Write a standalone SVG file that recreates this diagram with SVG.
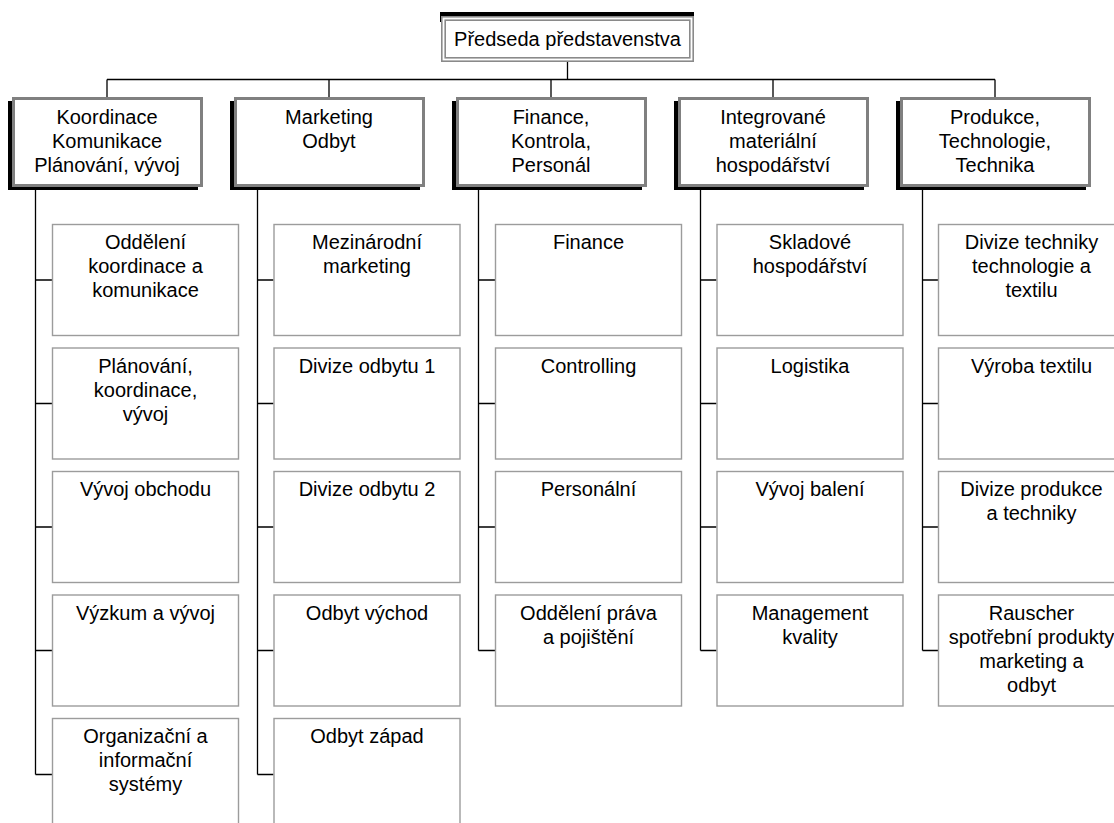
<svg xmlns="http://www.w3.org/2000/svg" width="1114" height="823" viewBox="0 0 1114 823">
<style>
text{font-family:"Liberation Sans",Arial,sans-serif;font-size:20px;fill:#000;text-anchor:middle}
.conn{stroke:#000;stroke-width:1.3;fill:none}
.shadow{fill:#000}
.head{fill:#fff;stroke:#808080;stroke-width:3}
.child{fill:#fff;stroke:#9c9c9c;stroke-width:1.4}
.topo{fill:#fff;stroke:#8a8a8a;stroke-width:1.6}
.topi{fill:none;stroke:#8a8a8a;stroke-width:1.6}
</style>
<rect width="1114" height="823" fill="#fff"/>
<g id="connectors">
<path class="conn" d="M567.5 62V79.5M107 79.5H995M107 79.5V97M329 79.5V97M551 79.5V97M773 79.5V97M995 79.5V97"/>
<path class="conn" d="M35.5 190V774.5M35.5 280H52M35.5 403.5H52M35.5 527H52M35.5 650.5H52M35.5 774.5H52"/>
<path class="conn" d="M257.5 190V774.5M257.5 280H273.5M257.5 403.5H273.5M257.5 527H273.5M257.5 650.5H273.5M257.5 774.5H273.5"/>
<path class="conn" d="M478.5 190V650.5M478.5 280H495M478.5 403.5H495M478.5 527H495M478.5 650.5H495"/>
<path class="conn" d="M700.5 190V650.5M700.5 280H716.5M700.5 403.5H716.5M700.5 527H716.5M700.5 650.5H716.5"/>
<path class="conn" d="M922.5 190V650.5M922.5 280H938M922.5 403.5H938M922.5 527H938M922.5 650.5H938"/>
</g>
<g id="top">
<rect class="shadow" x="440" y="12" width="254" height="10"/>
<rect class="topo" x="441.8" y="16.8" width="251.4" height="44.4"/>
<rect class="topi" x="445.2" y="20.2" width="244.6" height="37.6"/>
<text x="567.5" y="46">Předseda představenstva</text>
</g>
<g id="h1">
<rect class="shadow" x="8" y="101" width="190" height="89"/>
<rect class="head" x="13.5" y="98.5" width="188" height="87"/>
<text x="107" y="124">Koordinace</text><text x="107" y="148">Komunikace</text><text x="107" y="172">Plánování, vývoj</text>
</g>
<g id="h2">
<rect class="shadow" x="230" y="101" width="190" height="89"/>
<rect class="head" x="235.5" y="98.5" width="188" height="87"/>
<text x="329" y="124">Marketing</text><text x="329" y="148">Odbyt</text>
</g>
<g id="h3">
<rect class="shadow" x="452" y="101" width="190" height="89"/>
<rect class="head" x="457.5" y="98.5" width="188" height="87"/>
<text x="551" y="124">Finance,</text><text x="551" y="148">Kontrola,</text><text x="551" y="172">Personál</text>
</g>
<g id="h4">
<rect class="shadow" x="674" y="101" width="190" height="89"/>
<rect class="head" x="679.5" y="98.5" width="188" height="87"/>
<text x="773" y="124">Integrované</text><text x="773" y="148">materiální</text><text x="773" y="172">hospodářství</text>
</g>
<g id="h5">
<rect class="shadow" x="896" y="101" width="190" height="89"/>
<rect class="head" x="901.5" y="98.5" width="188" height="87"/>
<text x="995" y="124">Produkce,</text><text x="995" y="148">Technologie,</text><text x="995" y="172">Technika</text>
</g>
<g id="c1a"><rect class="child" x="52.5" y="224.5" width="186" height="111"/><text x="145.5" y="249">Oddělení</text><text x="145.5" y="273">koordinace a</text><text x="145.5" y="297">komunikace</text></g>
<g id="c1b"><rect class="child" x="52.5" y="348" width="186" height="111"/><text x="145.5" y="372.5">Plánování,</text><text x="145.5" y="396.5">koordinace,</text><text x="145.5" y="420.5">vývoj</text></g>
<g id="c1c"><rect class="child" x="52.5" y="471.5" width="186" height="111"/><text x="145.5" y="496">Vývoj obchodu</text></g>
<g id="c1d"><rect class="child" x="52.5" y="595" width="186" height="111"/><text x="145.5" y="619.5">Výzkum a vývoj</text></g>
<g id="c1e"><rect class="child" x="52.5" y="718.5" width="186" height="111"/><text x="145.5" y="743">Organizační a</text><text x="145.5" y="767">informační</text><text x="145.5" y="791">systémy</text></g>
<g id="c2a"><rect class="child" x="274" y="224.5" width="186" height="111"/><text x="367" y="249">Mezinárodní</text><text x="367" y="273">marketing</text></g>
<g id="c2b"><rect class="child" x="274" y="348" width="186" height="111"/><text x="367" y="372.5">Divize odbytu 1</text></g>
<g id="c2c"><rect class="child" x="274" y="471.5" width="186" height="111"/><text x="367" y="496">Divize odbytu 2</text></g>
<g id="c2d"><rect class="child" x="274" y="595" width="186" height="111"/><text x="367" y="619.5">Odbyt východ</text></g>
<g id="c2e"><rect class="child" x="274" y="718.5" width="186" height="111"/><text x="367" y="743">Odbyt západ</text></g>
<g id="c3a"><rect class="child" x="495.5" y="224.5" width="186" height="111"/><text x="588.5" y="249">Finance</text></g>
<g id="c3b"><rect class="child" x="495.5" y="348" width="186" height="111"/><text x="588.5" y="372.5">Controlling</text></g>
<g id="c3c"><rect class="child" x="495.5" y="471.5" width="186" height="111"/><text x="588.5" y="496">Personální</text></g>
<g id="c3d"><rect class="child" x="495.5" y="595" width="186" height="111"/><text x="588.5" y="619.5">Oddělení práva</text><text x="588.5" y="643.5">a pojištění</text></g>
<g id="c4a"><rect class="child" x="717" y="224.5" width="186" height="111"/><text x="810" y="249">Skladové</text><text x="810" y="273">hospodářství</text></g>
<g id="c4b"><rect class="child" x="717" y="348" width="186" height="111"/><text x="810" y="372.5">Logistika</text></g>
<g id="c4c"><rect class="child" x="717" y="471.5" width="186" height="111"/><text x="810" y="496">Vývoj balení</text></g>
<g id="c4d"><rect class="child" x="717" y="595" width="186" height="111"/><text x="810" y="619.5">Management</text><text x="810" y="643.5">kvality</text></g>
<g id="c5a"><rect class="child" x="938.5" y="224.5" width="186" height="111"/><text x="1031.5" y="249">Divize techniky</text><text x="1031.5" y="273">technologie a</text><text x="1031.5" y="297">textilu</text></g>
<g id="c5b"><rect class="child" x="938.5" y="348" width="186" height="111"/><text x="1031.5" y="372.5">Výroba textilu</text></g>
<g id="c5c"><rect class="child" x="938.5" y="471.5" width="186" height="111"/><text x="1031.5" y="496">Divize produkce</text><text x="1031.5" y="520">a techniky</text></g>
<g id="c5d"><rect class="child" x="938.5" y="595" width="186" height="111"/><text x="1031.5" y="619.5">Rauscher</text><text x="1031.5" y="643.5">spotřební produkty</text><text x="1031.5" y="667.5">marketing a</text><text x="1031.5" y="691.5">odbyt</text></g>
</svg>
